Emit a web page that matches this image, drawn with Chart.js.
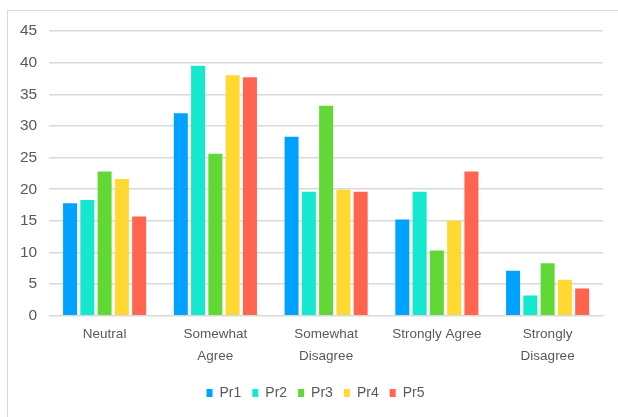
<!DOCTYPE html>
<html>
<head>
<meta charset="utf-8">
<script src="https://cdn.jsdelivr.net/npm/chart.js@4/dist/chart.umd.min.js"></script>
<style>
  html, body { margin: 0; padding: 0; background: #ffffff; }
  #wrap { position: relative; width: 618px; height: 417px; overflow: hidden; }
  #frame { position: absolute; left: 7px; top: 10px; width: 640px; height: 440px;
           border: 1px solid #d9d9d9; box-sizing: border-box; }
  #chart { position: absolute; left: 0; top: 0; }
</style>
</head>
<body>
<div id="wrap">
  <div id="frame"></div>
  <canvas id="chart" width="618" height="417"></canvas>
</div>
<script>
// Survey responses per answer option, one series per product
const categories = [
  'Neutral',
  ['Somewhat', 'Agree'],
  ['Somewhat', 'Disagree'],
  'Strongly Agree',
  ['Strongly', 'Disagree']
];
const seriesNames = ['Pr1', 'Pr2', 'Pr3', 'Pr4', 'Pr5'];
const pr1 = [17.8, 32.0, 28.3, 15.2, 7.1];
const pr2 = [18.3, 39.5, 19.6, 19.6, 3.2];
const pr3 = [22.8, 25.6, 33.2, 10.3, 8.3];
const pr4 = [21.6, 38.0, 19.9, 15.0, 5.7];
const pr5 = [15.7, 37.7, 19.6, 22.8, 4.3];
const yTicks = [0, 5, 10, 15, 20, 25, 30, 35, 40, 45];

const colors = ['#00A2FF', '#16E7CF', '#61D836', '#FFD932', '#FF644E'];
const values = [pr1, pr2, pr3, pr4, pr5];

const fontFamily = '"Liberation Sans", Arial, sans-serif';
const textColor = '#595959';

// Nudge the legend row so it sits centred under the plot area
const legendShift = {
  id: 'legendShift',
  afterLayout(chart) {
    const lg = chart.legend;
    if (!lg) return;
    const dx = 10;
    lg.left += dx;
    lg.right += dx;
    (lg.legendHitBoxes || []).forEach(b => { b.left += dx; });
  }
};

new Chart(document.getElementById('chart'), {
  type: 'bar',
  data: {
    labels: categories,
    datasets: seriesNames.map((name, i) => ({
      label: name,
      data: values[i],
      backgroundColor: colors[i],
      borderWidth: 0,
      categoryPercentage: 0.78,
      barPercentage: 0.81
    }))
  },
  options: {
    responsive: false,
    animation: false,
    layout: { padding: { left: 8, right: 15, top: 31, bottom: 7 } },
    plugins: {
      tooltip: { enabled: false },
      legend: {
        position: 'bottom',
        labels: {
          color: textColor,
          font: { family: fontFamily, size: 14 },
          boxWidth: 6,
          boxHeight: 8,
          padding: 11
        }
      }
    },
    scales: {
      x: {
        grid: { display: false, drawTicks: false },
        border: { display: true, color: '#d9d9d9', width: 1 },
        ticks: {
          color: textColor,
          font: { family: fontFamily, size: 13.5, lineHeight: 1.6 },
          maxRotation: 0,
          autoSkip: false,
          padding: 8
        }
      },
      y: {
        min: 0,
        max: 45,
        afterBuildTicks: (axis) => { axis.ticks = yTicks.map(v => ({ value: v })); },
        grid: { color: '#d9d9d9', lineWidth: 1.5, drawTicks: false },
        border: { display: false },
        ticks: {
          color: textColor,
          font: { family: fontFamily, size: 15.5 },
          padding: 12
        }
      }
    }
  },
  plugins: [legendShift]
});
</script>
</body>
</html>
